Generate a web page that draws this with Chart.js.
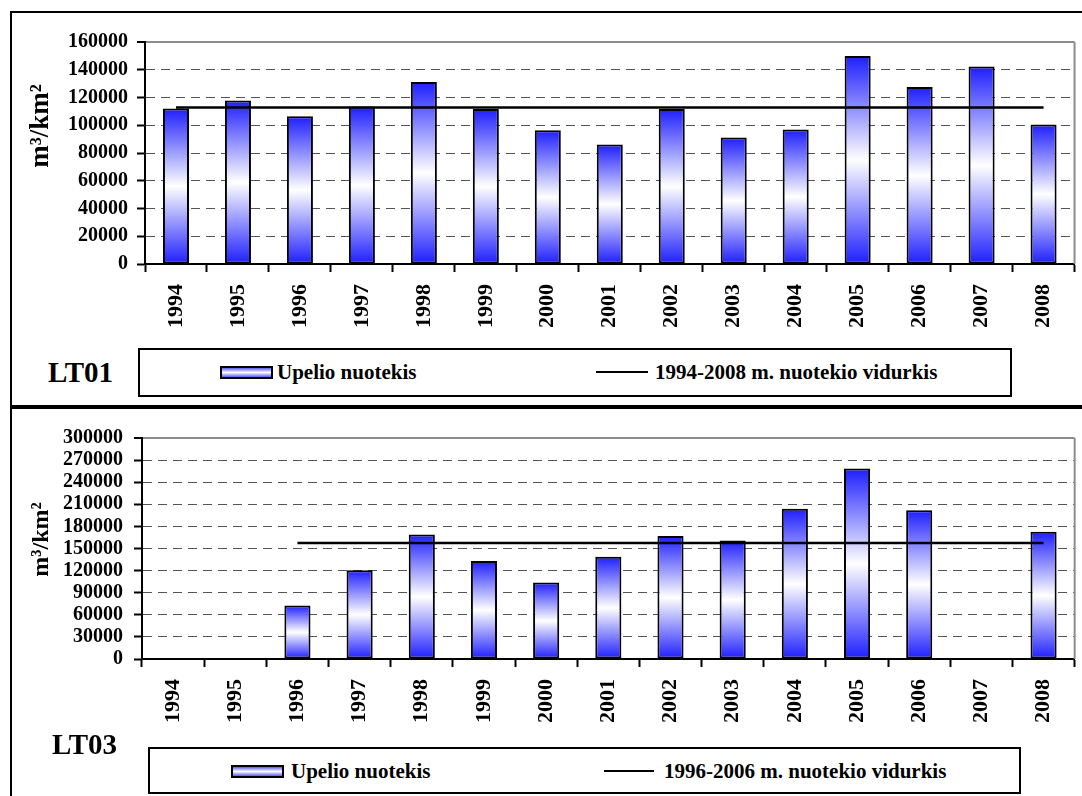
<!DOCTYPE html>
<html>
<head>
<meta charset="utf-8">
<title>LT01 / LT03 upelio nuotekis</title>
<script src="https://cdn.jsdelivr.net/npm/chart.js@4.4.1/dist/chart.umd.min.js"></script>
<style>
  html, body { margin: 0; padding: 0; background: #fff; }
  body { width: 1082px; height: 796px; position: relative; overflow: hidden;
         font-family: 'Liberation Serif', 'Times New Roman', serif; font-weight: bold; color: #000; }
  .rule { position: absolute; background: #000; }
  canvas { position: absolute; left: 0; }
  .legend-box { position: absolute; border: 2px solid #000; box-sizing: border-box; }
  .legend-text { position: absolute; font-size: 21px; line-height: 24px; white-space: nowrap; }
  .swatch { position: absolute; width: 53px; height: 13px; box-sizing: border-box; border: 2px solid #000;
            background: linear-gradient(to bottom, #5a5aff 0%, #ffffff 50%, #5a5aff 100%); }
  .line-key { position: absolute; height: 2px; background: #000; }
  .station { position: absolute; font-size: 29px; line-height: 34px; white-space: nowrap; }
</style>
</head>
<body>

<!-- outer frame -->
<div class="rule" style="left:10px; top:11px; width:1072px; height:2px;"></div>
<div class="rule" style="left:10px; top:11px; width:2px; height:394px;"></div>
<div class="rule" style="left:10px; top:405px; width:1072px; height:4px;"></div>
<div class="rule" style="left:10px; top:409px; width:2px; height:387px;"></div>

<canvas id="chartLT01" width="1082" height="340" style="top:0px; width:1082px; height:340px;"></canvas>
<canvas id="chartLT03" width="1082" height="340" style="top:400px; width:1082px; height:340px;"></canvas>

<div class="station" style="left:48px; top:355px;">LT01</div>
<div class="legend-box" style="left:138px; top:348px; width:874px; height:49px;"></div>
<div class="swatch" style="left:220px; top:366px;"></div>
<div class="legend-text" style="left:277px; top:360px;">Upelio nuotekis</div>
<div class="line-key" style="left:596px; top:371px; width:52px;"></div>
<div class="legend-text" style="left:655px; top:360px;">1994-2008 m. nuotekio vidurkis</div>

<div class="station" style="left:52px; top:727px;">LT03</div>
<div class="legend-box" style="left:148px; top:747px; width:873px; height:47px;"></div>
<div class="swatch" style="left:231px; top:765px;"></div>
<div class="legend-text" style="left:291px; top:759px;">Upelio nuotekis</div>
<div class="line-key" style="left:604px; top:770px; width:50px;"></div>
<div class="legend-text" style="left:664px; top:759px;">1996-2006 m. nuotekio vidurkis</div>

<script>
var years = ['1994', '1995', '1996', '1997', '1998', '1999', '2000', '2001',
             '2002', '2003', '2004', '2005', '2006', '2007', '2008'];

// LT01, m3/km2
var lt01Flow = [112000, 117800, 106500, 113500, 131200, 111800, 96400, 86100,
                111800, 91200, 96900, 149900, 127600, 142300, 100500];
var lt01Mean = [112800, 112800, 112800, 112800, 112800, 112800, 112800, 112800,
                112800, 112800, 112800, 112800, 112800, 112800, 112800];
var lt01Ticks = [0, 20000, 40000, 60000, 80000, 100000, 120000, 140000, 160000];

// LT03, m3/km2 (no data 1994, 1995, 2007)
var lt03Flow = [null, null, 72500, 120400, 169100, 133000, 103700, 138800,
                166800, 161000, 203800, 258500, 202000, null, 172700];
var lt03Mean = [null, null, 157400, 157400, 157400, 157400, 157400, 157400,
                157400, 157400, 157400, 157400, 157400, 157400, 157400];
var lt03Ticks = [0, 30000, 60000, 90000, 120000, 150000, 180000, 210000, 240000, 270000, 300000];

var FONT = "'Liberation Serif', 'Times New Roman', serif";
var BLUE = '#1e1eff';
var GRAY = '#8c8c8c';
var DASH = '#555555';

function barFill(context) {
    var chart = context.chart;
    if (!chart.chartArea || context.raw == null) return BLUE;
    var y = chart.scales.y;
    var top = y.getPixelForValue(context.raw);
    var bottom = y.getPixelForValue(0);
    var g = chart.ctx.createLinearGradient(0, top, 0, bottom);
    g.addColorStop(0, BLUE);
    g.addColorStop(0.5, '#ffffff');
    g.addColorStop(1, BLUE);
    return g;
}

var plotFrame = {
    id: 'plotFrame',
    beforeDatasetsDraw: function(chart) {
        var a = chart.chartArea;
        var ctx = chart.ctx;
        ctx.save();
        ctx.strokeStyle = GRAY;
        ctx.lineWidth = 2;
        ctx.beginPath();
        ctx.moveTo(a.right, a.top);
        ctx.lineTo(a.right, a.bottom);
        ctx.stroke();
        ctx.restore();
    }
};

function makeChart(canvasId, flow, mean, ticks, box) {
    var max = ticks[ticks.length - 1];
    return new Chart(document.getElementById(canvasId), {
        type: 'bar',
        data: {
            labels: years,
            datasets: [
                {
                    type: 'line',
                    label: box.meanLabel,
                    data: mean,
                    borderColor: '#000',
                    borderWidth: 2.5,
                    pointRadius: 0,
                    pointHoverRadius: 0,
                    fill: false,
                    order: 0
                },
                {
                    type: 'bar',
                    label: 'Upelio nuotekis',
                    data: flow,
                    backgroundColor: barFill,
                    borderColor: '#000',
                    borderWidth: 2,
                    borderSkipped: false,
                    categoryPercentage: 1,
                    barPercentage: 0.42,
                    order: 1
                }
            ]
        },
        options: {
            responsive: false,
            animation: false,
            events: [],
            layout: { padding: { top: box.top, right: 1, left: 0, bottom: 0 } },
            plugins: {
                legend: { display: false },
                tooltip: { enabled: false }
            },
            scales: {
                x: {
                    afterFit: function(s) { s.height = box.xHeight; },
                    grid: { offset: true, drawOnChartArea: false, drawTicks: true,
                            tickLength: 8, tickColor: '#000', tickWidth: 2 },
                    border: { color: '#000', width: 2 },
                    ticks: {
                        color: '#000',
                        font: { family: FONT, size: 22, weight: 'bold' },
                        minRotation: 90, maxRotation: 90, autoSkip: false, padding: 12
                    }
                },
                y: {
                    min: 0,
                    max: max,
                    afterFit: function(s) { s.width = box.yWidth; },
                    afterBuildTicks: function(s) {
                        s.ticks = ticks.map(function(v) { return { value: v }; });
                    },
                    grid: {
                        color: function(c) {
                            if (!c.tick || c.tick.value === 0) return 'rgba(0,0,0,0)';
                            return c.tick.value === max ? GRAY : DASH;
                        },
                        lineWidth: function(c) {
                            return (c.tick && c.tick.value === max) ? 2 : 1;
                        },
                        tickLength: 8, tickColor: '#000', tickWidth: 2
                    },
                    border: {
                        color: '#000',
                        width: 2,
                        dash: function(c) {
                            return (c.tick && c.tick.value !== max) ? [9, 6] : [];
                        }
                    },
                    ticks: {
                        color: '#000',
                        autoSkip: false,
                        font: { family: FONT, size: 20, weight: 'bold' },
                        padding: box.tickPad,
                        callback: function(v) { return String(v); }
                    },
                    title: {
                        display: true,
                        text: box.title,
                        color: '#000',
                        font: { family: FONT, size: box.titleSize, weight: 'bold', lineHeight: 1.2 },
                        padding: { top: box.titlePad, bottom: 0 }
                    }
                }
            }
        },
        plugins: [plotFrame]
    });
}

makeChart('chartLT01', lt01Flow, lt01Mean, lt01Ticks, {
    meanLabel: '1994-2008 m. nuotekio vidurkis',
    top: 42, xHeight: 76, yWidth: 145, tickPad: 9,
    title: '        m³/km²', titleSize: 27, titlePad: 25
});

makeChart('chartLT03', lt03Flow, lt03Mean, lt03Ticks, {
    meanLabel: '1996-2006 m. nuotekio vidurkis',
    top: 38, xHeight: 81, yWidth: 142, tickPad: 11,
    title: '   m³/km²', titleSize: 24, titlePad: 27
});
</script>
</body>
</html>
